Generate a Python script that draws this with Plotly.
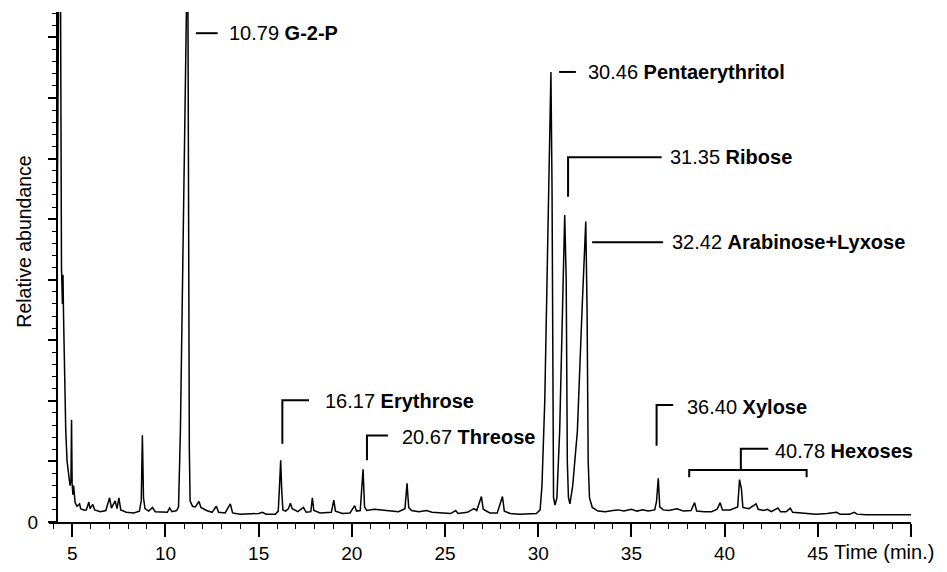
import plotly.graph_objects as go

# ---- chromatogram trace (time in min, relative abundance %) ----
time_min = [
    4.16, 4.22, 4.28, 4.36, 4.42, 4.47, 4.50, 4.53, 4.58, 4.65, 4.72, 4.80, 4.88, 4.93, 4.96, 4.99,
    5.03, 5.07, 5.10, 5.15, 5.25, 5.39, 5.45, 5.60, 5.75, 5.89, 5.95, 6.10, 6.20, 6.50, 6.80, 7.00,
    7.10, 7.30, 7.40, 7.50, 7.60, 7.90, 8.30, 8.60, 8.70, 8.76, 8.82, 8.90, 9.10, 9.30, 9.45, 9.80,
    10.10, 10.22, 10.35, 10.60, 10.70, 10.80, 10.90, 11.00, 11.08, 11.15, 11.20, 11.24, 11.28, 11.32,
    11.45, 11.60, 11.80, 11.90, 12.20, 12.50, 12.73, 12.85, 13.20, 13.48, 13.60, 14.00, 14.50, 15.00,
    15.20, 15.40, 15.90, 16.05, 16.12, 16.18, 16.24, 16.30, 16.45, 16.60, 16.70, 16.80, 17.10, 17.40,
    17.55, 17.80, 17.88, 17.96, 18.30, 18.60, 18.90, 19.03, 19.12, 19.50, 19.90, 20.15, 20.25, 20.45,
    20.60, 20.68, 20.80, 21.20, 21.60, 22.00, 22.50, 22.85, 22.96, 23.05, 23.20, 23.60, 24.00, 24.30,
    24.90, 25.30, 25.57, 25.70, 26.20, 26.55, 26.70, 26.95, 27.05, 27.40, 27.80, 28.08, 28.18, 28.50,
    29.00, 29.50, 29.90, 30.10, 30.20, 30.35, 30.50, 30.62, 30.68, 30.74, 30.78, 30.82, 30.90, 31.00,
    31.15, 31.30, 31.42, 31.50, 31.56, 31.62, 31.70, 31.85, 32.10, 32.35, 32.55, 32.62, 32.68, 32.75,
    32.90, 33.20, 33.60, 34.00, 34.30, 34.60, 35.00, 35.30, 35.60, 35.90, 36.25, 36.35, 36.44, 36.52,
    36.70, 37.00, 37.44, 37.80, 38.20, 38.39, 38.50, 38.90, 39.30, 39.60, 39.76, 39.88, 40.30, 40.70,
    40.80, 40.90, 40.98, 41.30, 41.69, 41.80, 42.10, 42.30, 42.50, 42.86, 43.00, 43.30, 43.52, 43.65,
    44.00, 44.50, 44.90, 45.50, 46.00, 46.20, 46.70, 46.96, 47.10, 47.60, 48.20, 48.80, 49.40, 50.00,
]
abundance = [
    32, 60, 95, 95, 42, 36, 40.8, 34, 24, 15, 10, 7.5, 6, 7, 16.9, 6.5,
    4.5, 6.0, 4.2, 3.2, 2.6, 3.0, 2.2, 2.0, 2.0, 3.3, 2.2, 2.9, 2.0, 1.7, 1.9, 4.0,
    2.3, 3.5, 2.2, 4.0, 2.0, 1.6, 1.5, 1.8, 3.5, 14.3, 4.0, 2.2, 1.8, 2.4, 1.7, 1.6,
    1.6, 2.3, 1.7, 1.9, 2.5, 15, 35, 55, 72, 90, 90, 45, 12, 3.5,
    2.6, 2.5, 3.4, 2.4, 1.9, 1.6, 2.6, 1.6, 1.5, 3.0, 1.5, 1.3, 1.4, 1.4,
    1.6, 1.3, 1.3, 1.8, 6.0, 10.2, 5.0, 2.0, 1.8, 2.2, 3.1, 2.2, 1.7, 2.4,
    1.6, 1.7, 4.0, 1.9, 1.5, 1.6, 1.6, 3.6, 1.8, 1.4, 1.5, 2.7, 1.8, 1.9,
    8.7, 2.5, 1.9, 2.1, 2.0, 1.9, 1.7, 2.2, 6.4, 2.4, 1.9, 1.7, 1.9, 1.6,
    1.5, 1.4, 1.9, 1.4, 1.6, 2.2, 1.9, 4.2, 2.1, 1.5, 1.5, 4.2, 1.8, 1.4,
    1.3, 1.3, 1.4, 2.0, 6, 20, 45, 70, 74.3, 55, 15, 4, 2.8, 4,
    15, 35, 50.7, 40, 10, 4, 3, 6, 15, 35, 49.6, 35, 10, 4,
    2.4, 1.8, 1.7, 1.9, 2.0, 1.8, 2.1, 1.8, 2.0, 1.8, 2.0, 3.5, 7.2, 2.5,
    2.0, 1.9, 2.2, 1.8, 1.9, 3.2, 1.8, 1.7, 1.7, 2.1, 3.2, 2.0, 2.0, 2.5,
    7.0, 5.5, 2.4, 2.2, 3.0, 2.1, 1.9, 2.1, 1.7, 2.3, 1.7, 1.7, 2.3, 1.6,
    1.5, 1.3, 1.3, 1.4, 1.6, 1.3, 1.3, 1.6, 1.3, 1.2, 1.2, 1.2, 1.2, 1.2,
]

# ---- axis ticks ----
x_tick_vals = [5, 10, 15, 20, 25, 30, 35, 40, 45, 50]
x_tick_text = ["5", "10", "15", "20", "25", "30", "35", "40", "45", ""]
y_tick_vals = [0, 10, 20, 30, 40, 50, 60, 70, 80]
y_tick_text = ["0", "", "", "", "", "", "", "", ""]

# ---- peak labels ----
label_rt = ["10.79", "30.46", "31.35", "32.42", "16.17", "20.67", "36.40", "40.78"]
label_name = ["G-2-P", "Pentaerythritol", "Ribose", "Arabinose+Lyxose",
              "Erythrose", "Threose", "Xylose", "Hexoses"]
label_x = [13.29, 32.55, 36.97, 37.06, 18.45, 22.60, 37.87, 42.60]
label_y = [80.7, 74.3, 60.2, 46.2, 20.0, 14.0, 19.0, 11.8]

# leader lines (polylines) for each label
leader_x = [
    [11.63, 12.80],
    [31.12, 32.02],
    [31.60, 31.60, 36.62],
    [32.89, 36.70],
    [16.27, 16.27, 17.70],
    [20.81, 20.81, 21.94],
    [36.35, 36.35, 37.24],
    [38.10, 38.10, 44.40, 44.40],
    [40.87, 40.87, 42.34],
]
leader_y = [
    [80.7, 80.7],
    [74.3, 74.3],
    [53.7, 60.2, 60.2],
    [46.2, 46.2],
    [12.9, 20.1, 20.1],
    [10.2, 14.3, 14.3],
    [12.6, 19.3, 19.3],
    [7.4, 8.6, 8.6, 7.4],
    [8.6, 12.1, 12.1],
]

FONT = "Liberation Sans, Arial, sans-serif"

fig = go.Figure()
fig.add_trace(go.Scatter(x=time_min, y=abundance, mode="lines",
                         line=dict(color="black", width=1.5), hoverinfo="skip",
                         showlegend=False))

for lx, ly in zip(leader_x, leader_y):
    fig.add_trace(go.Scatter(x=lx, y=ly, mode="lines",
                             line=dict(color="black", width=2), hoverinfo="skip",
                             showlegend=False, cliponaxis=False))

annotations = []
for rt, name, x, y in zip(label_rt, label_name, label_x, label_y):
    annotations.append(dict(x=x, y=y, xref="x", yref="y", showarrow=False,
                            xanchor="left", yanchor="middle",
                            text=f"{rt} <b>{name}</b>",
                            font=dict(family=FONT, size=20, color="black")))
annotations.append(dict(x=0.9085, y=-0.058, xref="paper", yref="paper", showarrow=False,
                        xanchor="left", yanchor="middle", text="Time (min.)",
                        font=dict(family=FONT, size=20, color="black")))
annotations.append(dict(x=-0.0294, y=0.549, xref="paper", yref="paper", showarrow=False,
                        xanchor="center", yanchor="middle", textangle=-90,
                        text="Relative abundance",
                        font=dict(family=FONT, size=19.5, color="black")))

# the page adds an 8px body margin; keep the figure inside the 947x572 viewport
fig.update_layout(
    width=931, height=556,
    margin=dict(l=41, r=28, t=4, b=42, autoexpand=False),
    paper_bgcolor="white", plot_bgcolor="white",
    annotations=annotations,
    font=dict(family=FONT, size=19, color="black"),
    xaxis=dict(range=[3.75, 50], showline=True, linewidth=2, linecolor="black",
               automargin=False,
               ticks="outside", ticklen=13, tickwidth=1.5, tickcolor="black",
               tickvals=x_tick_vals, ticktext=x_tick_text,
               tickfont=dict(family=FONT, size=19, color="black"),
               minor=dict(dtick=1, ticks="outside", ticklen=5, tickwidth=1.2,
                          tickcolor="black", showgrid=False),
               showgrid=False, zeroline=False, fixedrange=True),
    yaxis=dict(range=[0, 84.2], anchor="free", position=0.009,
               automargin=False,
               showline=True, linewidth=2, linecolor="black",
               ticks="outside", ticklen=8, tickwidth=1.5, tickcolor="black",
               tickvals=y_tick_vals, ticktext=y_tick_text,
               ticklabelstandoff=6,
               tickfont=dict(family=FONT, size=19, color="black"),
               minor=dict(dtick=2, ticks="outside", ticklen=4, tickwidth=1.2,
                          tickcolor="black", showgrid=False),
               showgrid=False, zeroline=False, fixedrange=True),
)

fig.write_html("out.html")
